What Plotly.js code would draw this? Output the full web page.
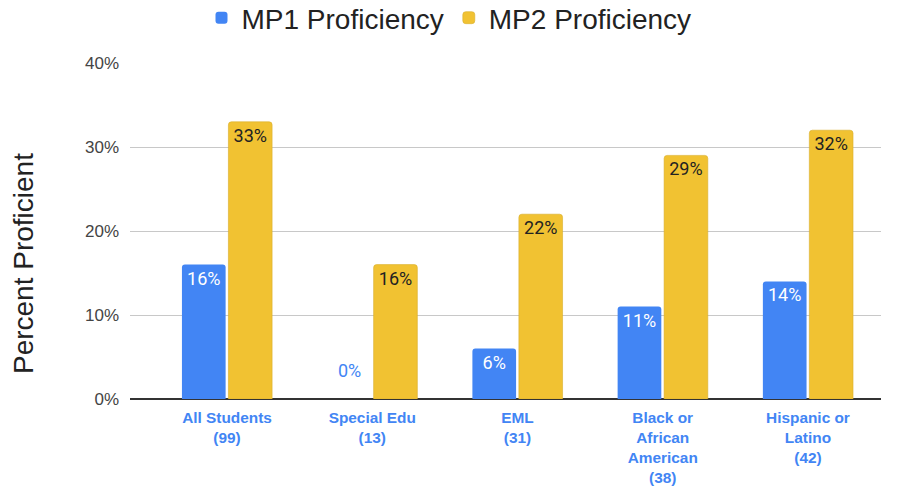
<!DOCTYPE html>
<html>
<head>
<meta charset="utf-8">
<script src="https://cdn.plot.ly/plotly-3.0.1.min.js"></script>
<style>html,body{margin:0;padding:0;background:#fff;}#chart{width:898px;height:487px;}</style>
</head>
<body>
<div id="chart"></div>
<script>
var categories = ["All Students<br>(99)", "Special Edu<br>(13)", "EML<br>(31)", "Black or<br>African<br>American<br>(38)", "Hispanic or<br>Latino<br>(42)"];
var mp1 = [16, 0, 6, 11, 14];
var mp2 = [33, 16, 22, 29, 32];
var seriesNames = ["MP1 Proficiency", "MP2 Proficiency"];
var yTicks = [0, 10, 20, 30, 40];
var yTitle = "Percent Proficient";

var blue = "#4285F4", yellow = "#F1C232";
var xIdx = categories.map(function(_, i){ return i; });
function labels(v){ return v.map(function(d){ return d === 0 ? "" : d + "%"; }); }

var traces = [
  {type: "bar", name: seriesNames[0], x: xIdx, y: mp1, text: labels(mp1),
   textposition: "inside", insidetextanchor: "end", textangle: 0,
   textfont: {family: "Roboto, Arial, sans-serif", size: 18, color: "#ffffff"},
   marker: {color: blue, cornerradius: 3}, hoverinfo: "skip", cliponaxis: false},
  {type: "bar", name: seriesNames[1], x: xIdx, y: mp2, text: labels(mp2),
   textposition: "inside", insidetextanchor: "end", textangle: 0,
   textfont: {family: "Roboto, Arial, sans-serif", size: 18, color: "#222222"},
   marker: {color: yellow, cornerradius: 3, line: {color: "#d9ae2c", width: 0.6}}, hoverinfo: "skip", cliponaxis: false}
];

var annotations = [];
mp1.forEach(function(v, i){
  if (v === 0) annotations.push({x: i - 0.16, y: v, xref: "x", yref: "y", text: v + "%", showarrow: false,
    yshift: 29, font: {family: "Roboto, Arial, sans-serif", size: 18, color: blue},
    bgcolor: "rgba(255,255,255,0.9)"});
});
annotations.push({text: yTitle, xref: "paper", yref: "paper", x: -0.141, y: 0.402, xanchor: "center", yanchor: "middle",
  textangle: -90, showarrow: false, font: {family: "Arial, Liberation Sans, sans-serif", size: 28, color: "#222"}});

var layout = {
  width: 898, height: 487,
  margin: {l: 130, r: 17, t: 63, b: 88, autoexpand: false},
  paper_bgcolor: "#fff", plot_bgcolor: "#fff",
  barmode: "group", bargap: 0.36, bargroupgap: 0.06,
  showlegend: true,
  legend: {orientation: "h", x: 0.5, xanchor: "center", xref: "container", y: 1.134, yanchor: "middle", yref: "paper",
    font: {family: "Arial, Liberation Sans, sans-serif", size: 28, color: "#222"},
    traceorder: "normal"},
  xaxis: {range: [-0.668, 4.503], tickvals: xIdx, ticktext: categories, showgrid: false, zeroline: false,
    showline: false, ticks: "", tickangle: 0, automargin: false, ticklabelstandoff: 8,
    tickfont: {family: "Arial, Liberation Sans, sans-serif", size: 15.4, color: blue, weight: "bold"}},
  yaxis: {range: [0, 40], tickvals: yTicks, ticktext: yTicks.map(function(t){ return t + "%"; }),
    showgrid: true, gridcolor: "#c8c8c8", gridwidth: 1, zeroline: true, zerolinecolor: "#333", zerolinewidth: 1.5,
    ticks: "", ticklen: 0, ticklabelstandoff: 10, automargin: false,
    tickfont: {family: "Arial, Liberation Sans, sans-serif", size: 17, color: "#444"}},
  annotations: annotations
};

Plotly.newPlot("chart", traces, layout, {displayModeBar: false, staticPlot: true});
</script>
</body>
</html>
